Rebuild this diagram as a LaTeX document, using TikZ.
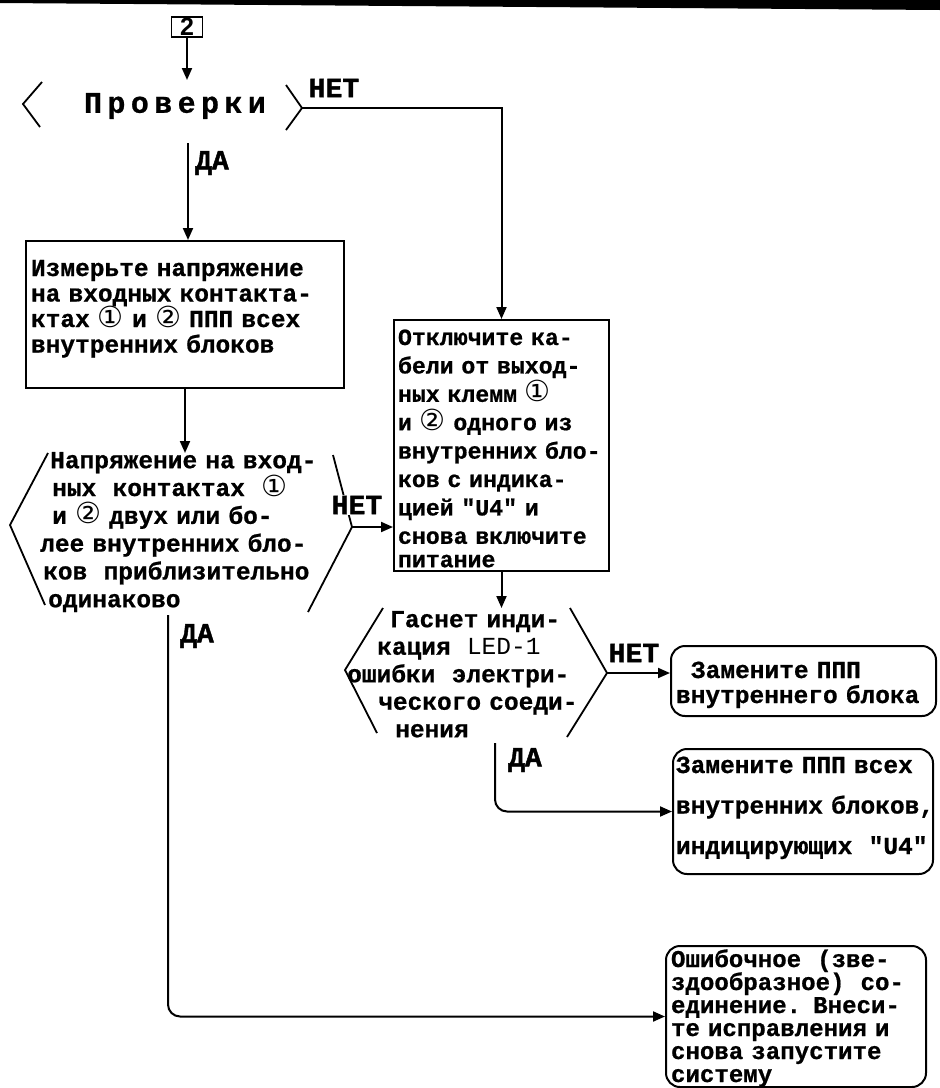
\documentclass[tikz,border=0pt]{standalone}
\usepackage{fontspec}
\setmainfont{Liberation Mono}[Ligatures=TeXOff, BoldFeatures={FakeBold=0.8}]
\newfontfamily\circfont{DejaVu Sans}
\newfontfamily\labfont{Liberation Mono}[UprightFont=* Bold, FakeBold=1.5]
\newfontfamily\numfont{Liberation Sans}[UprightFont=* Bold]
\usetikzlibrary{arrows.meta}
\newcommand\cI{\smash{\circfont\mdseries\fontsize{29}{29}\selectfont\char"2460}}
\newcommand\cII{\smash{\circfont\mdseries\fontsize{29}{29}\selectfont\char"2461}}
\begin{document}
\begin{tikzpicture}[x=1pt,y=-1pt,
  ln/.style={line width=2pt},
  arr/.style={line width=2pt, -{Triangle[length=12pt,width=10pt]}},
  rectbox/.style={draw, line width=2pt, anchor=north west, inner ysep=0pt, align=left},
  rbox/.style={rectbox, rounded corners=14pt},
  dtext/.style={anchor=north west, inner sep=0pt, align=left},
  chev/.style={line width=1.8pt},
  lab/.style={font=\labfont\fontsize{28}{28}\selectfont, inner sep=1pt}]
\useasboundingbox (0,0) rectangle (940,1088);
\fill (0,0) -- (940,0) -- (940,10) -- (0,3) -- cycle;

% start marker
\node[draw, line width=1.6pt, minimum width=31pt, minimum height=20pt, inner sep=0pt,
      text height=17pt, text depth=1pt,
      font=\numfont\fontsize{25}{25}\selectfont] (start) at (187,27) {2};

% decision 1
\node[inner sep=0pt, font=\bfseries\fontsize{30}{30}\selectfont\addfontfeature{LetterSpace=18}] (dec1) at (175,106) {Проверки};
\draw[chev] (42,82) -- (23,104) -- (40,127);
\draw[chev] (286,85) -- (302,108) -- (286,130);
\coordinate (d1n) at (188,80);
\coordinate (d1e) at (302,108);
\coordinate (d1s) at (188,143);

% box 1
\node[rectbox, text width=308pt, text height=35pt, text depth=112pt, inner xsep=5pt,
      font=\bfseries\fontsize{24.5}{25.5}\selectfont] (b1) at (25,240)
  {Измерьте напряжение\\на входных контакта-\\ктах \cI{} и \cII{} ППП всех\\внутренних блоков};

% decision 2
\node[dtext, text width=300pt, text height=15pt, text depth=144pt,
      font=\bfseries\fontsize{24.5}{27.8}\selectfont] (dec2) at (40,453)
  {\hspace*{10pt}Напряжение на вход-\\
   \hspace*{12pt}ных~~контактах~~\cI\\
   \hspace*{12pt}и \cII{} двух или бо-\\
   лее внутренних бло-\\
   \hspace*{3pt}ков~~приблизительно\\
   \hspace*{8pt}одинаково};
\draw[chev] (48,453) -- (10,525) -- (45,605);
\draw[chev] (333,455) -- (352,527) -- (308,612);
\coordinate (d2e) at (352,527);
\coordinate (d2s) at (168,615);

% box 2
\node[rectbox, text width=207pt, text height=25pt, text depth=226pt, inner xsep=4pt,
      font=\bfseries\fontsize{23.2}{28.4}\selectfont] (b2) at (393,319)
  {Отключите ка-\\бели от выход-\\ных клемм \cI\\и \cII{} одного из\\\mbox{внутренних бло-}\\ков с индика-\\цией "U4" и\\снова включите\\[-5pt]питание};

% decision 3
\node[dtext, text width=250pt, text height=19pt, text depth=110pt,
      font=\bfseries\fontsize{24.5}{27.5}\selectfont] (dec3) at (347,608)
  {\hspace*{43pt}Гаснет инди-\\
   \hspace*{30pt}кация~~{\mdseries LED-1}\\
   ошибки~~электри-\\
   \hspace*{31pt}ческого соеди-\\
   \hspace*{48pt}нения};
\draw[chev] (383,608) -- (345,670) -- (377,733);
\draw[chev] (570,608) -- (607,673) -- (567,737);
\coordinate (d3e) at (607,673);
\coordinate (d3s) at (495,743);

% result boxes
\node[rbox, text width=255pt, text height=32pt, text depth=38pt, inner xsep=5pt,
      font=\bfseries\fontsize{24.5}{25}\selectfont] (b3) at (670,645)
  {\hspace*{15pt}Замените ППП\\внутреннего блока};
\node[rbox, text width=254pt, text height=24pt, text depth=101pt, inner xsep=3pt,
      font=\bfseries\fontsize{24.5}{40.5}\selectfont] (b4) at (672,748)
  {Замените ППП всех\\\mbox{внутренних блоков,}\\\mbox{индицирующих~~"U4"}};
\node[rbox, text width=250pt, text height=21pt, text depth=120pt, inner xsep=5pt,
      font=\bfseries\fontsize{24.1}{23}\selectfont] (b5) at (665,945)
  {\mbox{Ошибочное~~(зве-}\\\mbox{здообразное)~~со-}\\единение. Внеси-\\\mbox{те исправления и}\\снова запустите\\систему};

% connectors
\draw[arr] (start.south) -- (start.south |- d1n);
\draw[arr] (d1s) -- (d1s |- b1.north);
\draw[arr] (d1e) -| (b2.north);
\draw[arr] (b1.south) -- (b1.south |- dec2.north);
\draw[arr] (d2e) -- (d2e -| b2.west);
\draw[arr, rounded corners=12pt] (d2s) |- (b5.west);
\draw[arr] (b2.south) -- (b2.south |- dec3.north);
\draw[arr] (d3e) -- (d3e -| b3.west);
\draw[arr, rounded corners=12pt] (d3s) |- (b4.west);

% labels
\node[lab] (l1n) at (334,88) {НЕТ};
\node[lab] (l1y) at (212,163) {ДА};
\node[lab, fill=white] (l2n) at (357,505) {НЕТ};
\node[lab] (l2y) at (197,636) {ДА};
\node[lab] (l3n) at (634,653) {НЕТ};
\node[lab] (l3y) at (525,760) {ДА};
\end{tikzpicture}
\end{document}
